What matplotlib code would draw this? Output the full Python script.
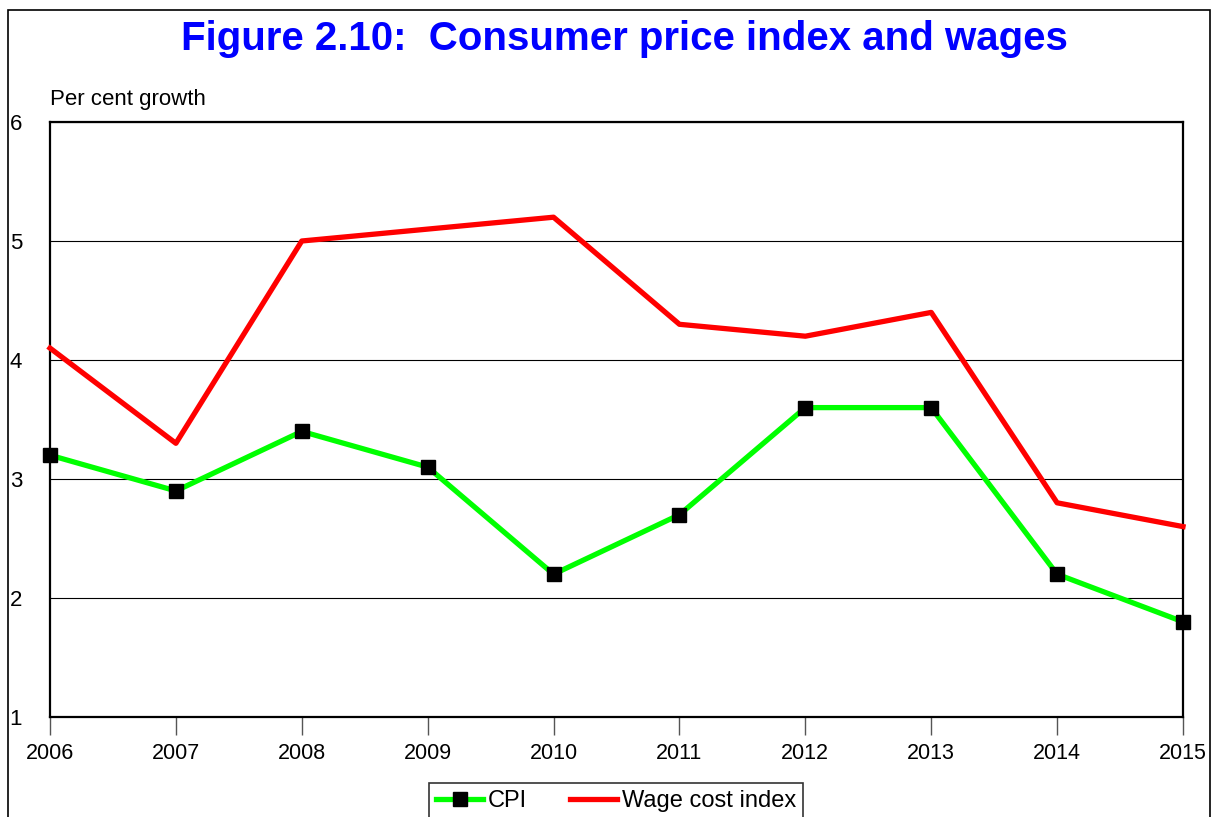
import matplotlib
matplotlib.use("Agg")
import matplotlib.pyplot as plt
from matplotlib.patches import Rectangle

years = ["2006", "2007", "2008", "2009", "2010", "2011", "2012", "2013", "2014", "2015"]
cpi = [3.2, 2.9, 3.4, 3.1, 2.2, 2.7, 3.6, 3.6, 2.2, 1.8]
wage = [4.1, 3.3, 5.0, 5.1, 5.2, 4.3, 4.2, 4.4, 2.8, 2.6]
yticks = [1, 2, 3, 4, 5, 6]

plt.rcParams['font.family'] = ['Liberation Sans', 'DejaVu Sans']

W, H = 1212, 817
fig = plt.figure(figsize=(W / 100, H / 100), dpi=100)
ax = fig.add_axes([50 / W, 1 - 717 / H, (1183 - 50) / W, (717 - 122) / H])

x = list(range(len(years)))
ax.plot(x, cpi, color='#00FF00', lw=3.8, marker='s', markersize=10,
        markerfacecolor='black', markeredgecolor='black', label='CPI', zorder=3, clip_on=False)
ax.plot(x, wage, color='#FF0000', lw=3.8, label='Wage cost index', zorder=3, clip_on=False)

ax.set_xlim(0, len(years) - 1)
ax.set_ylim(1, 6)
ax.set_xticks(x)
ax.set_xticklabels(years, fontsize=15.5)
ax.set_yticks(yticks)
ax.set_yticklabels([str(v) for v in yticks], fontsize=16, ha='left')
ax.tick_params(axis='y', length=0, pad=29)
ax.tick_params(axis='x', length=13, width=1, color='#555555', direction='out', pad=6)
ax.grid(axis='y', color='black', lw=0.8)
ax.set_axisbelow(True)
for s in ax.spines.values():
    s.set_linewidth(1.6)
    s.set_color('black')

fig.text(50 / W, 1 - 100 / H, "Per cent growth", fontsize=16, va='center', ha='left')
fig.text(624 / W, 1 - 39 / H, "Figure 2.10:  Consumer price index and wages",
         fontsize=29, fontweight='bold', color='#0000FF', ha='center', va='center')

leg = fig.legend(loc='upper center', bbox_to_anchor=(616 / W, 1 - 783 / H), ncol=2,
                 fontsize=17, frameon=True, fancybox=False, edgecolor='black',
                 handlelength=2.0, handletextpad=0.2, columnspacing=1.8, borderpad=0.3,
                 borderaxespad=0)
leg.get_frame().set_linewidth(1.2)

fig.add_artist(Rectangle((8 / W, -0.05), (1210 - 8) / W, 1.05 - 10 / H,
                         transform=fig.transFigure, fill=False, edgecolor='black',
                         lw=1.2, clip_on=False))

fig.savefig("out.png", dpi=100)
